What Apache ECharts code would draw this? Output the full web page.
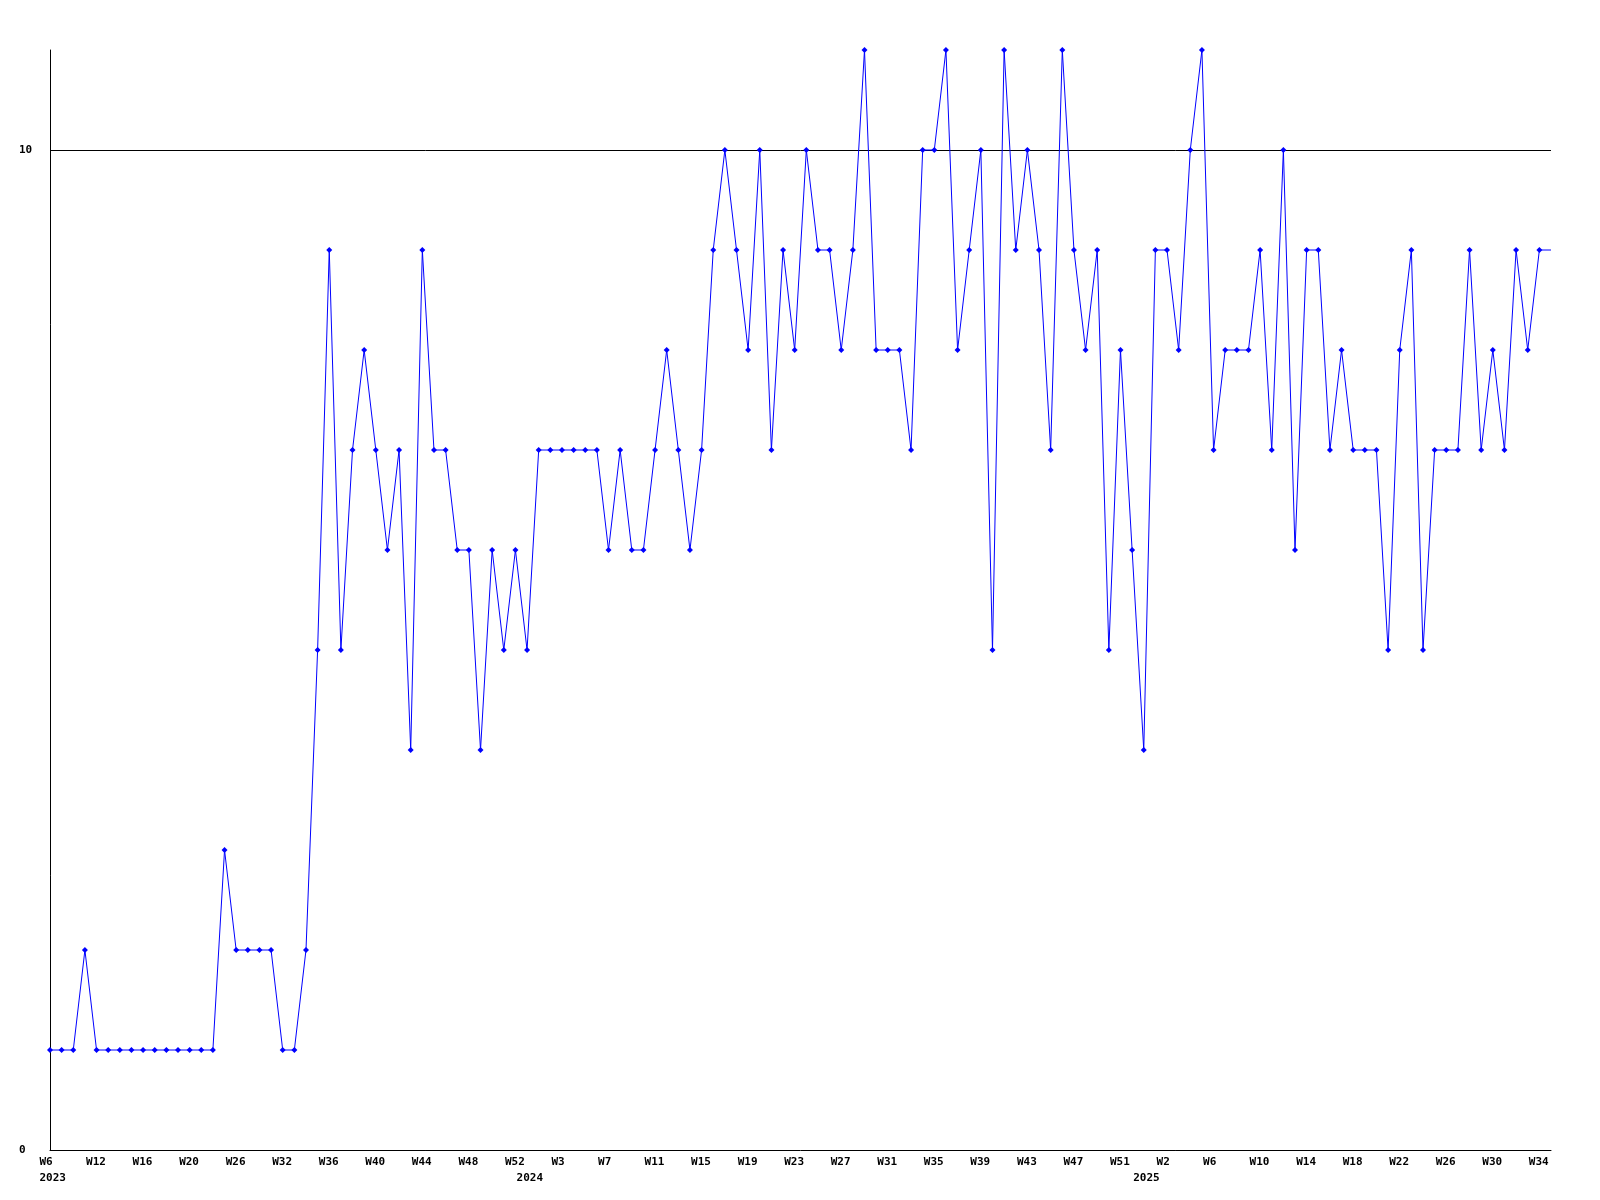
<!DOCTYPE html>
<html>
<head>
<meta charset="utf-8">
<script src="https://cdn.jsdelivr.net/npm/echarts@6/dist/echarts.min.js"></script>
<style>
html,body{margin:0;padding:0;background:#fff;}
#chart{width:1600px;height:1200px;}
</style>
</head>
<body>
<div id="chart"></div>
<script>
// Week numbers per year (one entry per data point)
const weeks2023 = [6,8,10,11,12,13,14,15,16,17,18,19,20,21,23,25,26,27,28,30,32,33,34,35,36,37,38,39,40,41,42,43,44,45,46,47,48,49,50,51,52];
const weeks2024 = [1,1,2,3,4,5,6,7,8,9,10,11,12,13,14,15,16,17,18,19,20,21,22,23,24,25,26,27,28,29,30,31,32,33,34,35,36,37,38,39,40,41,42,43,44,45,46,47,48,49,50,51,52];
const weeks2025 = [1,1,2,3,4,5,6,7,8,9,10,11,12,13,14,15,16,17,18,19,20,21,22,23,24,25,26,27,28,29,30,31,32,33,34,35];
const years = ['2023','2024','2025'];

// Series values
const values = [
  1,1,1,2,1,1,1,1,1,1,1,1,1,1,1,3,2,2,2,2,1,1,2,
  5,9,5,7,8,7,6,7,4,9,7,7,6,6,4,6,5,6,5,7,7,
  7,7,7,7,6,7,6,6,7,8,7,6,7,9,10,9,8,10,7,9,8,10,9,
  9,8,9,11,8,8,8,7,10,10,11,8,9,10,5,11,9,10,9,7,11,9,
  8,9,5,8,6,4,9,9,8,10,11,7,8,8,8,9,7,10,6,9,9,7,
  8,7,7,7,5,8,9,5,7,7,7,9,7,8,7,9,8,9,9
];

const yTicks = [0, 10];
const refLine = 10;

const categories = [];
[weeks2023, weeks2024, weeks2025].forEach((arr, yi) => {
  arr.forEach(w => categories.push(years[yi] + '-W' + w));
});
function yearOf(i){ return categories[i].split('-')[0]; }
function weekOf(i){ return categories[i].split('-')[1]; }
function isYearStart(i){ return i === 0 || yearOf(i) !== yearOf(i-1); }

const seriesData = values.map((v, i) => i === values.length - 1 ? {value: v, symbol: 'none'} : v);

const chart = echarts.init(document.getElementById('chart'), null, {renderer: 'canvas'});
const font = '"DejaVu Sans Mono", "Liberation Mono", monospace';
chart.setOption({
  animation: false,
  backgroundColor: '#ffffff',
  grid: {left: 50, right: 49, top: 50, bottom: 50, containLabel: false},
  xAxis: {
    type: 'category',
    data: categories,
    boundaryGap: false,
    axisLine: {show: true, lineStyle: {color: '#000', width: 1}},
    axisTick: {show: false},
    splitLine: {show: false},
    axisLabel: {
      interval: (i) => i % 4 === 0 || isYearStart(i),
      formatter: (val, i) => {
        const top = i % 4 === 0 ? weekOf(i) : '';
        const bottom = isYearStart(i) ? yearOf(i) : '';
        return bottom ? top + '\n' + bottom : top;
      },
      align: 'left',
      padding: [0, 0, 0, -10.5],
      margin: 4,
      lineHeight: 16,
      color: '#000',
      fontFamily: font,
      fontWeight: 'bold',
      fontSize: 11
    }
  },
  yAxis: {
    type: 'value',
    min: 0,
    max: 11,
    interval: 10,
    axisLine: {show: true, lineStyle: {color: '#000', width: 1}},
    axisTick: {show: false},
    splitLine: {show: false},
    axisLabel: {
      formatter: v => yTicks.indexOf(v) >= 0 ? String(v) : '',
      align: 'left',
      margin: 31,
      color: '#000',
      fontFamily: font,
      fontWeight: 'bold',
      fontSize: 11
    }
  },
  series: [{
    type: 'line',
    data: seriesData,
    showSymbol: true,
    showAllSymbol: true,
    symbol: 'diamond',
    symbolSize: 6,
    itemStyle: {color: '#0000ff'},
    lineStyle: {color: '#0000ff', width: 1},
    z: 3,
    markLine: {
      silent: true,
      symbol: ['none', 'none'],
      label: {show: false},
      lineStyle: {color: '#000', width: 1, type: 'solid'},
      data: [{yAxis: refLine}],
      z: 1
    }
  }]
});
</script>
</body>
</html>
